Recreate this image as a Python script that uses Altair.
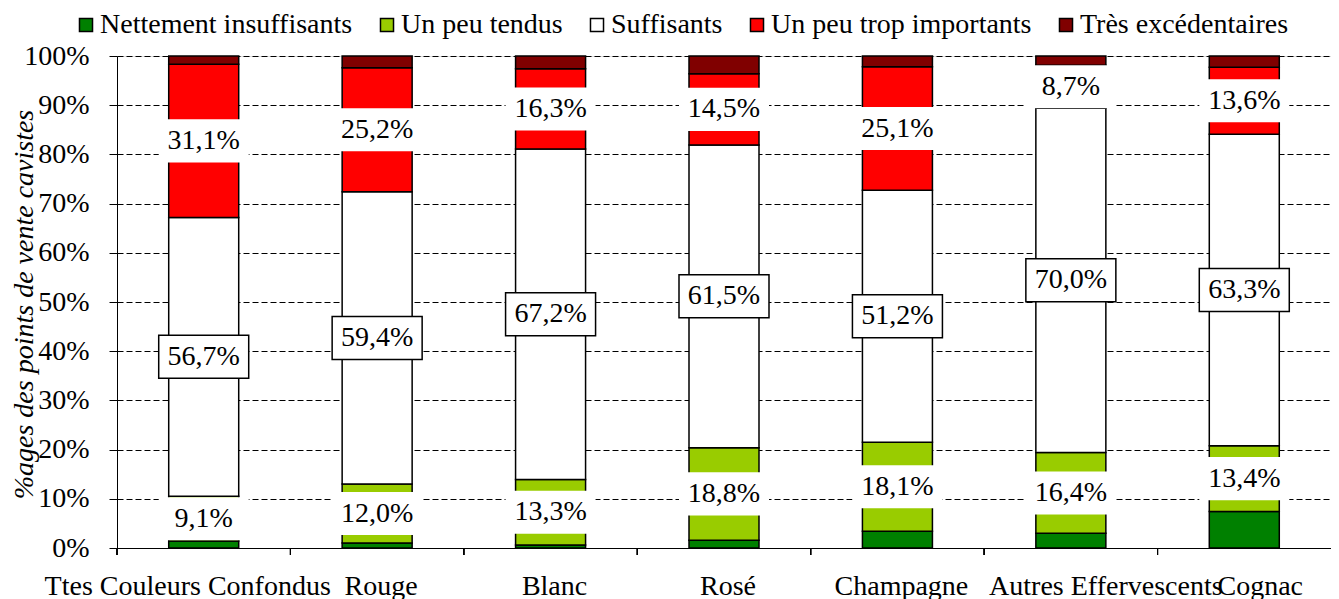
import altair as alt
import pandas as pd

categories = ["Ttes Couleurs Confondus", "Rouge", "Blanc", "Rosé", "Champagne",
              "Autres Effervescents", "Cognac"]
series = ["Nettement insuffisants", "Un peu tendus", "Suffisants",
          "Un peu trop importants", "Très excédentaires"]
colors = ["#008000", "#99CC00", "#FFFFFF", "#FF0000", "#800000"]

nettement = [1.4, 1.0, 0.6, 1.6, 3.4, 3.0, 7.4]
tendus = [9.1, 12.0, 13.3, 18.8, 18.1, 16.4, 13.4]
suffisants = [56.7, 59.4, 67.2, 61.5, 51.2, 70.0, 63.3]
trop = [31.1, 25.2, 16.3, 14.5, 25.1, 8.7, 13.6]
tres = [1.7, 2.4, 2.6, 3.6, 2.2, 1.9, 2.3]

rows = []
for i, c in enumerate(categories):
    for j, vals in enumerate([nettement, tendus, suffisants, trop, tres]):
        rows.append({"cat": c, "serie": series[j], "ord": j, "v": vals[i]})
df = pd.DataFrame(rows)

W, H = 1214, 492
FONT = "Liberation Serif"
BAND = W / len(categories)

x_axis = alt.Axis(
    title=None, labelAngle=0, labelFont=FONT, labelFontSize=28, labelColor="black",
    ticks=False, domainColor="black", domainWidth=1, labelPadding=24,
    labelOverlap=False, labelLimit=1000, grid=False,
    labelOffset={"condition": [
        {"test": "datum.value === 'Ttes Couleurs Confondus'", "value": -16},
        {"test": "datum.value === 'Autres Effervescents'", "value": 35},
        {"test": "datum.value === 'Cognac'", "value": 16},
    ], "value": 4},
)
x_enc = alt.X("cat:N", sort=categories,
              scale=alt.Scale(paddingInner=0, paddingOuter=0), axis=x_axis)

y_axis = alt.Axis(
    title="%ages des points de vente cavistes", values=list(range(0, 101, 10)),
    labelExpr="datum.value + '%'", labelFont=FONT, labelFontSize=28, labelColor="black",
    tickSize=8, tickColor="black", domainColor="black", labelPadding=20,
    grid=True, gridColor="black", gridDash=[6, 3], gridWidth=1,
    titleFont=FONT, titleFontSize=28, titleFontStyle="italic", titleFontWeight="normal",
    titleColor="black", titleX=-85, titleY=248, titleAlign="center",
    titleBaseline="alphabetic",
)
y_scale = alt.Scale(domain=[0, 100], nice=False)

base = alt.Chart(df)

bars = base.mark_bar(size=70, stroke="black", strokeWidth=1.5).encode(
    x=x_enc,
    y=alt.Y("v:Q", stack="zero", scale=y_scale, axis=y_axis),
    color=alt.Color("serie:N", sort=series,
                    scale=alt.Scale(domain=series, range=colors),
                    legend=alt.Legend(
                        orient="none", legendX=-45, legendY=-45, direction="horizontal",
                        title=None, symbolType="square", symbolSize=170,
                        symbolStrokeColor="black", symbolStrokeWidth=1.5,
                        labelFont=FONT, labelFontSize=28, labelColor="black",
                        columnPadding=20, labelOffset=0, padding=0, labelLimit=1000,
                        symbolOpacity=1)),
    order=alt.Order("ord:Q", sort="ascending"),
)

lab = base.transform_stack(
    stack="v", groupby=["cat"], as_=["y0", "y1"],
    sort=[alt.SortField("ord", order="ascending")],
).transform_filter("datum.ord >= 1 && datum.ord <= 3").transform_calculate(
    mid="(datum.y0 + datum.y1) / 2",
    txt="replace(format(datum.v, '.1f'), '.', ',') + '%'",
)

box_shape = "M-1,-0.478L1,-0.478L1,0.478L-1,0.478Z"
boxes = lab.mark_point(shape=box_shape, size=8100, filled=True, fill="white",
                       opacity=1, fillOpacity=1, strokeWidth=1.5).encode(
    x=x_enc,
    y=alt.Y("mid:Q", scale=y_scale, axis=y_axis),
    stroke=alt.condition("datum.ord == 2", alt.value("black"), alt.value("transparent")),
)

texts = lab.mark_text(font=FONT, fontSize=28, baseline="middle", align="center",
                      color="black").encode(
    x=x_enc,
    y=alt.Y("mid:Q", scale=y_scale, axis=y_axis),
    text="txt:N",
)

ticks = base.mark_rule(color="black", strokeWidth=1, xOffset=-BAND / 2).encode(
    x=x_enc,
    y=alt.value(H),
    y2=alt.value(H + 7),
)

chart = alt.layer(bars, boxes, texts, ticks).properties(
    width=W, height=H,
    padding={"left": 109, "top": 48, "right": 0, "bottom": 51},
    autosize=alt.AutoSizeParams(type="none"),
).configure_view(stroke=None).configure(background="white")

chart.save("out.html", embed_options={"renderer": "svg", "actions": False})
